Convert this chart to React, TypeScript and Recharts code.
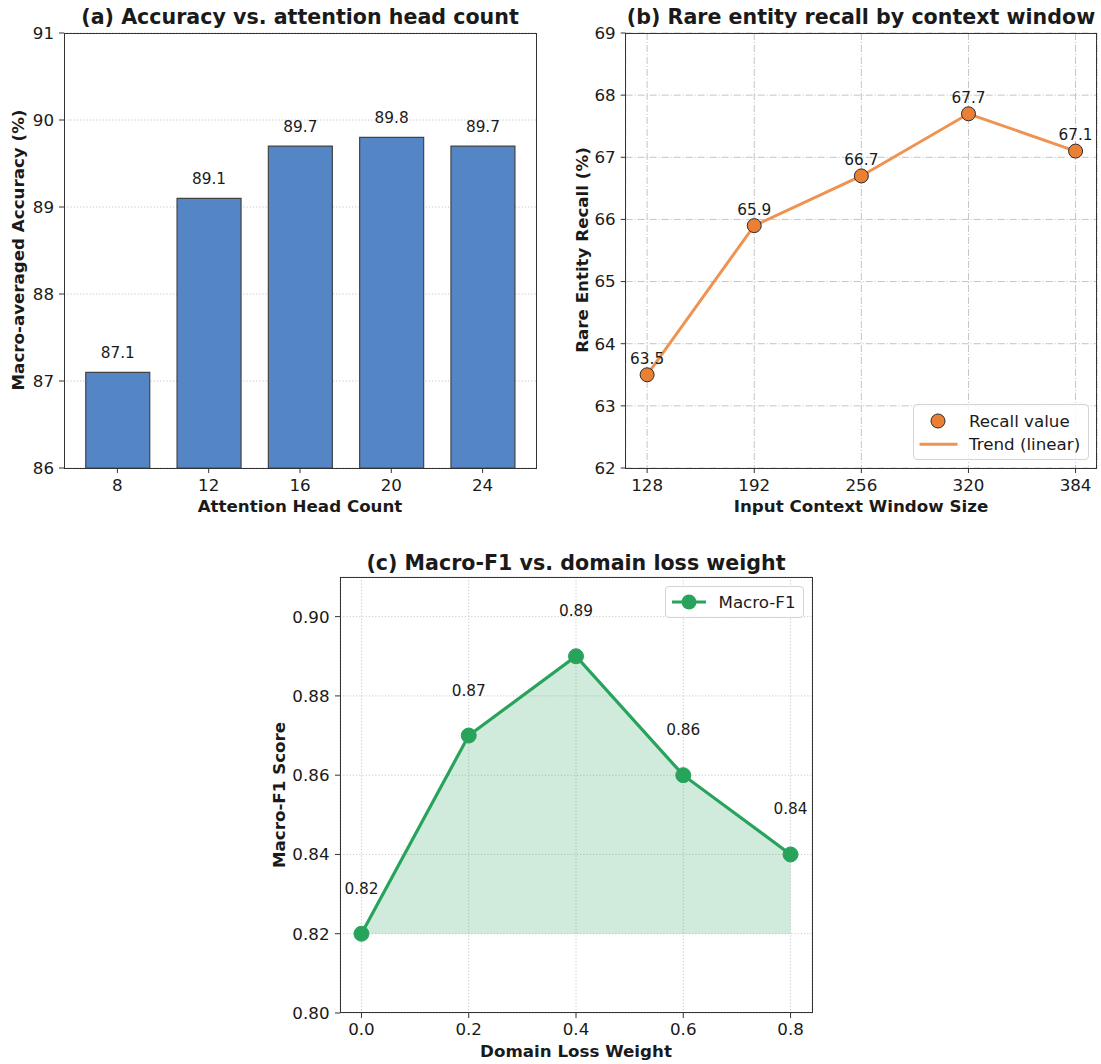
import React from 'react';
import {
  BarChart,
  Bar,
  XAxis,
  YAxis,
  CartesianGrid,
  LabelList,
  LineChart,
  Line,
  ComposedChart,
  Area,
} from 'recharts';

// ---------- data ----------
const headCounts = ['8', '12', '16', '20', '24'];
const accuracy = [87.1, 89.1, 89.7, 89.8, 89.7];
const accTicks = [86, 87, 88, 89, 90, 91];

const windowSizes = [128, 192, 256, 320, 384];
const recall = [63.5, 65.9, 66.7, 67.7, 67.1];
const recallTicks = [62, 63, 64, 65, 66, 67, 68, 69];

const lossWeights = [0.0, 0.2, 0.4, 0.6, 0.8];
const macroF1 = [0.82, 0.87, 0.89, 0.86, 0.84];
const f1Ticks = [0.8, 0.82, 0.84, 0.86, 0.88, 0.9];

const headData = headCounts.map((h, i) => ({ head: h, acc: accuracy[i] }));
const windowData = windowSizes.map((w, i) => ({ win: w, recall: recall[i] }));
const f1Data = lossWeights.map((w, i) => ({ w, f1: macroF1[i] }));
const f1Base = Math.min(...macroF1);

// ---------- style ----------
const FONT = '"DejaVu Sans", "Liberation Sans", sans-serif';
const TEXT = '#1a1a1a';
const SPINE = '#333333';
const TICK = 16.7;
const LABEL = 16.7;
const TITLE = 20.6;
const VALUE = 15.3;

const BAR_FILL = '#5485C5';
const ORANGE_LINE = '#EF9352';
const ORANGE_DOT = '#EB7F33';
const GREEN = '#28A35B';

const tickStyle = { fontSize: TICK, fill: TEXT, fontFamily: FONT };

function centerXY(props: any) {
  const vb = props.viewBox || {};
  const x = props.x ?? vb.x ?? 0;
  const y = props.y ?? vb.y ?? 0;
  const w = props.width ?? vb.width ?? 0;
  return { x: Number(x) + Number(w || 0) / 2, y: Number(y) };
}

const makeLabel = (dy: number, digits: number) => (props: any) => {
  const { x, y } = centerXY(props);
  return (
    <text
      x={x}
      y={y - dy}
      textAnchor="middle"
      fontSize={VALUE}
      fontFamily={FONT}
      fill={TEXT}
    >
      {Number(props.value).toFixed(digits)}
    </text>
  );
};

const Title = ({ text, cx, cy }: { text: string; cx: number; cy: number }) => (
  <div
    style={{
      position: 'absolute',
      left: cx,
      top: cy,
      transform: 'translate(-50%, -50%)',
      fontFamily: FONT,
      fontWeight: 'bold',
      fontSize: TITLE,
      color: TEXT,
      whiteSpace: 'nowrap',
      lineHeight: 1,
    }}
  >
    {text}
  </div>
);

const AxisLabel = ({
  text,
  cx,
  cy,
  vertical,
}: {
  text: string;
  cx: number;
  cy: number;
  vertical?: boolean;
}) => (
  <div
    style={{
      position: 'absolute',
      left: cx,
      top: cy,
      transform: vertical ? 'translate(-50%, -50%) rotate(-90deg)' : 'translate(-50%, -50%)',
      fontFamily: FONT,
      fontWeight: 'bold',
      fontSize: LABEL,
      color: TEXT,
      whiteSpace: 'nowrap',
      lineHeight: 1,
    }}
  >
    {text}
  </div>
);

const Frame = ({ l, t, r, b }: { l: number; t: number; r: number; b: number }) => (
  <div
    style={{
      position: 'absolute',
      left: l - 0.5,
      top: t - 0.5,
      width: r - l + 1,
      height: b - t + 1,
      border: `1px solid ${SPINE}`,
      boxSizing: 'border-box',
      pointerEvents: 'none',
    }}
  />
);

export default function App() {
  return (
    <div
      style={{
        position: 'absolute',
        left: 0,
        top: 0,
        width: 1101,
        height: 1064,
        background: '#ffffff',
        overflow: 'hidden',
      }}
    >
      {/* ---------- (a) ---------- */}
      <div style={{ position: 'absolute', left: 0, top: 0 }}>
        <BarChart
          width={550}
          height={520}
          data={headData}
          margin={{ top: 33, right: 14, bottom: 0, left: 0 }}
        >
          <CartesianGrid
            vertical={false}
            stroke="#c4c4c4"
            strokeDasharray="1.2 2"
          />
          <XAxis
            dataKey="head"
            type="category"
            padding={{ left: 7.75, right: 7.75 }}
            height={52}
            axisLine={false}
            tickLine={{ stroke: SPINE }}
            tickSize={5}
            tickMargin={6}
            tick={tickStyle}
            interval={0}
          />
          <YAxis
            type="number"
            domain={[86, 91]}
            ticks={accTicks}
            width={64}
            axisLine={false}
            tickLine={{ stroke: SPINE }}
            tickSize={5}
            tickMargin={5}
            tick={tickStyle}
            allowDataOverflow
          />
          <Bar
            dataKey="acc"
            fill={BAR_FILL}
            stroke="#444444"
            strokeWidth={1.2}
            barSize={64}
            isAnimationActive={false}
          >
            <LabelList dataKey="acc" content={makeLabel(14, 1)} />
          </Bar>
        </BarChart>
      </div>
      <Frame l={64} t={33} r={536} b={468} />
      <Title text="(a) Accuracy vs. attention head count" cx={300} cy={17} />
      <AxisLabel text="Attention Head Count" cx={300} cy={506} />
      <AxisLabel text="Macro-averaged Accuracy (%)" cx={18} cy={250} vertical />

      {/* ---------- (b) ---------- */}
      <div style={{ position: 'absolute', left: 560, top: 0 }}>
        <LineChart
          width={541}
          height={520}
          data={windowData}
          margin={{ top: 33, right: 4, bottom: 0, left: 0 }}
        >
          <CartesianGrid stroke="#c4c4c4" strokeDasharray="7 2 1 2" />
          <XAxis
            dataKey="win"
            type="number"
            domain={[115.2, 396.8]}
            ticks={windowSizes}
            height={52}
            axisLine={false}
            tickLine={{ stroke: SPINE }}
            tickSize={5}
            tickMargin={6}
            tick={tickStyle}
            allowDataOverflow
          />
          <YAxis
            type="number"
            domain={[62, 69]}
            ticks={recallTicks}
            width={65.7}
            axisLine={false}
            tickLine={{ stroke: SPINE }}
            tickSize={5}
            tickMargin={5}
            tick={tickStyle}
            allowDataOverflow
          />
          <Line
            dataKey="recall"
            stroke={ORANGE_LINE}
            strokeWidth={3}
            dot={false}
            isAnimationActive={false}
          />
          <Line
            dataKey="recall"
            stroke="none"
            strokeWidth={0}
            dot={{ r: 7, fill: ORANGE_DOT, stroke: '#2b2b2b', strokeWidth: 1 }}
            activeDot={false}
            isAnimationActive={false}
          >
            <LabelList dataKey="recall" content={makeLabel(11, 1)} />
          </Line>
        </LineChart>
      </div>
      <Frame l={625.7} t={33.3} r={1097} b={468.3} />
      <Title text="(b) Rare entity recall by context window" cx={861} cy={17} />
      <AxisLabel text="Input Context Window Size" cx={861} cy={506} />
      <AxisLabel text="Rare Entity Recall (%)" cx={582} cy={250} vertical />
      {/* legend (b) */}
      <div
        style={{
          position: 'absolute',
          left: 912.5,
          top: 404,
          width: 176.5,
          height: 56,
          border: '1px solid #d4d4d4',
          borderRadius: 4,
          background: 'rgba(255,255,255,0.85)',
          boxSizing: 'border-box',
        }}
      >
        <svg
          width={50}
          height={54}
          style={{ position: 'absolute', left: 0, top: 0 }}
        >
          <circle cx={24} cy={16} r={7} fill={ORANGE_DOT} stroke="#2b2b2b" strokeWidth={1} />
          <line x1={5.5} x2={43.5} y1={39.3} y2={39.3} stroke={ORANGE_LINE} strokeWidth={3} />
        </svg>
        <div
          style={{
            position: 'absolute',
            left: 55.5,
            top: 16,
            transform: 'translateY(-50%)',
            fontFamily: FONT,
            fontSize: LABEL,
            color: TEXT,
            whiteSpace: 'nowrap',
            lineHeight: 1,
          }}
        >
          Recall value
        </div>
        <div
          style={{
            position: 'absolute',
            left: 55.5,
            top: 39.3,
            transform: 'translateY(-50%)',
            fontFamily: FONT,
            fontSize: LABEL,
            color: TEXT,
            whiteSpace: 'nowrap',
            lineHeight: 1,
          }}
        >
          Trend (linear)
        </div>
      </div>

      {/* ---------- (c) ---------- */}
      <div style={{ position: 'absolute', left: 260, top: 540 }}>
        <ComposedChart
          width={560}
          height={524}
          data={f1Data}
          margin={{ top: 37, right: 8, bottom: 0, left: 0 }}
        >
          <CartesianGrid stroke="#c8c8c8" strokeDasharray="1.2 2" />
          <XAxis
            dataKey="w"
            type="number"
            domain={[-0.04, 0.84]}
            ticks={lossWeights}
            tickFormatter={(v: number) => v.toFixed(1)}
            height={51}
            axisLine={false}
            tickLine={{ stroke: SPINE }}
            tickSize={5}
            tickMargin={5}
            tick={tickStyle}
            allowDataOverflow
          />
          <YAxis
            type="number"
            domain={[0.8, 0.91]}
            ticks={f1Ticks}
            tickFormatter={(v: number) => v.toFixed(2)}
            width={80}
            axisLine={false}
            tickLine={{ stroke: SPINE }}
            tickSize={5}
            tickMargin={5.5}
            tick={tickStyle}
            allowDataOverflow
          />
          <Area
            dataKey="f1"
            type="linear"
            baseValue={f1Base}
            stroke="none"
            fill={GREEN}
            fillOpacity={0.22}
            isAnimationActive={false}
          />
          <Line
            dataKey="f1"
            type="linear"
            stroke={GREEN}
            strokeWidth={3.2}
            dot={{ r: 7.5, fill: GREEN, stroke: GREEN, strokeWidth: 1 }}
            activeDot={false}
            isAnimationActive={false}
          >
            <LabelList dataKey="f1" content={makeLabel(40, 2)} />
          </Line>
        </ComposedChart>
      </div>
      <Frame l={340} t={577.3} r={812} b={1013} />
      <Title text="(c) Macro-F1 vs. domain loss weight" cx={576} cy={563} />
      <AxisLabel text="Domain Loss Weight" cx={576} cy={1051} />
      <AxisLabel text="Macro-F1 Score" cx={279} cy={795} vertical />
      {/* legend (c) */}
      <div
        style={{
          position: 'absolute',
          left: 665,
          top: 586,
          width: 138.5,
          height: 32,
          border: '1px solid #d4d4d4',
          borderRadius: 4,
          background: 'rgba(255,255,255,0.85)',
          boxSizing: 'border-box',
        }}
      >
        <svg width={50} height={30} style={{ position: 'absolute', left: 0, top: 0 }}>
          <line x1={6} x2={40} y1={15} y2={15} stroke={GREEN} strokeWidth={3.2} />
          <circle cx={23} cy={15} r={7.5} fill={GREEN} />
        </svg>
        <div
          style={{
            position: 'absolute',
            left: 52.5,
            top: 15,
            transform: 'translateY(-50%)',
            fontFamily: FONT,
            fontSize: LABEL,
            color: TEXT,
            whiteSpace: 'nowrap',
            lineHeight: 1,
          }}
        >
          Macro-F1
        </div>
      </div>
    </div>
  );
}
